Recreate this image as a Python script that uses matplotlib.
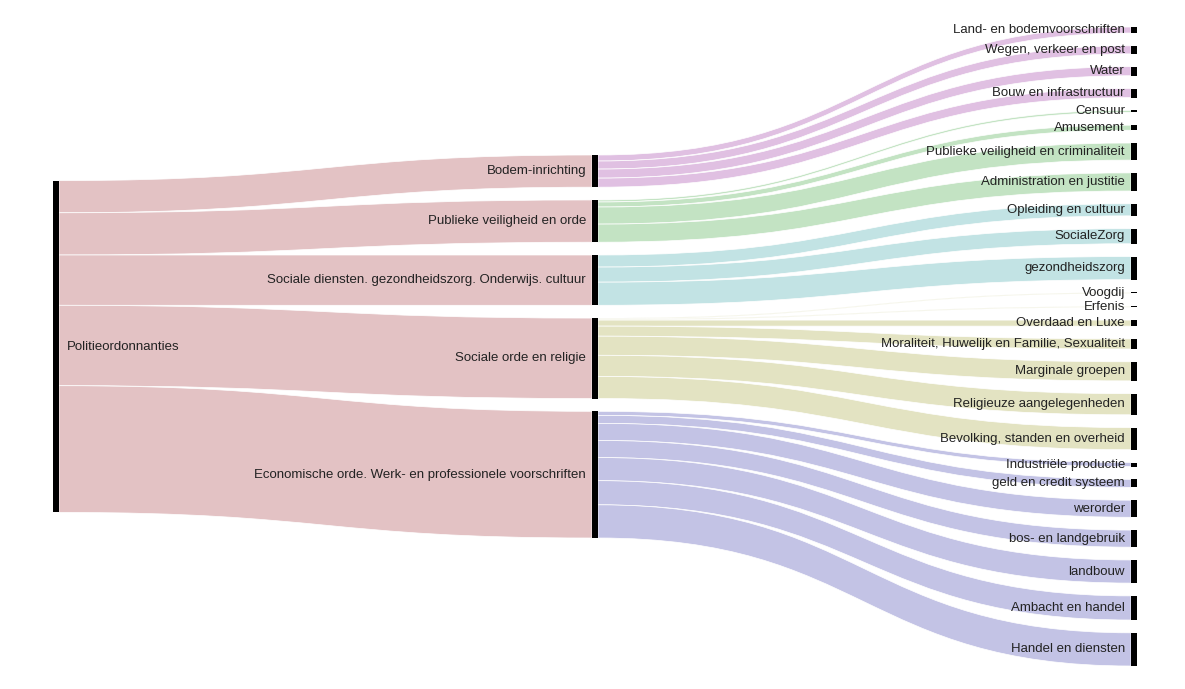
import matplotlib.pyplot as plt
from matplotlib.path import Path
from matplotlib.patches import PathPatch, Rectangle

plt.rcParams['font.family'] = ['Liberation Sans', 'DejaVu Sans']

# data
root = "Politieordonnanties"
groups = [
    "Bodem-inrichting",
    "Publieke veiligheid en orde",
    "Sociale diensten. gezondheidszorg. Onderwijs. cultuur",
    "Sociale orde en religie",
    "Economische orde. Werk- en professionele voorschriften",
]
subcats = [
    ["Land- en bodemvoorschriften", "Wegen, verkeer en post", "Water", "Bouw en infrastructuur"],
    ["Censuur", "Amusement", "Publieke veiligheid en criminaliteit", "Administration en justitie"],
    ["Opleiding en cultuur", "SocialeZorg", "gezondheidszorg"],
    ["Voogdij", "Erfenis", "Overdaad en Luxe", "Moraliteit, Huwelijk en Familie, Sexualiteit",
     "Marginale groepen", "Religieuze aangelegenheden", "Bevolking, standen en overheid"],
    ["Industriële productie", "geld en credit systeem", "werorder", "bos- en landgebruik",
     "landbouw", "Ambacht en handel", "Handel en diensten"],
]
sub_values = [
    [6, 8, 9, 9],
    [2, 5, 17, 18],
    [12, 15, 23],
    [1, 1, 6, 10, 19, 21, 22],
    [4, 8, 17, 17, 23, 24, 33],
]
group_values = [sum(v) for v in sub_values]

root_color = "#e3c2c4"
group_colors = ["#e0c0e2", "#c3e3c3", "#c2e3e4", "#e3e3c2", "#c3c3e5"]

# layout (pixel coordinates)
W, H = 1185, 689
top, bottom = 27, 666
x_left, x_right = 53, 1137
nw = 6
pad = 12.8

columns = [[root], groups, [s for grp in subcats for s in grp]]
col_values = [[sum(group_values)], group_values, [v for grp in sub_values for v in grp]]
span = bottom - top
ky = min((span - (len(v) - 1) * pad) / sum(v) for v in col_values)

node_pos = {}
for ci, (names, vals) in enumerate(zip(columns, col_values)):
    x = x_left + ci * (x_right - nw - x_left) / 2
    total = sum(vals) * ky + (len(vals) - 1) * pad
    y = top + (span - total) / 2
    for n, v in zip(names, vals):
        node_pos[n] = (x, y, y + v * ky)
        y += v * ky + pad

fig = plt.figure(figsize=(W / 100, H / 100), dpi=100)
ax = fig.add_axes([0, 0, 1, 1])
ax.set_xlim(0, W)
ax.set_ylim(H, 0)
ax.axis('off')


def draw_link(src, tgt, s0, value, color):
    xs = node_pos[src][0] + nw
    xt = node_pos[tgt][0]
    t0 = node_pos[tgt][1]
    h = value * ky
    xm = (xs + xt) / 2
    verts = [(xs, s0), (xm, s0), (xm, t0), (xt, t0),
             (xt, t0 + h), (xm, t0 + h), (xm, s0 + h), (xs, s0 + h), (xs, s0)]
    codes = [Path.MOVETO, Path.CURVE4, Path.CURVE4, Path.CURVE4,
             Path.LINETO, Path.CURVE4, Path.CURVE4, Path.CURVE4, Path.CLOSEPOLY]
    ax.add_patch(PathPatch(Path(verts, codes), facecolor=color, edgecolor='white', lw=0.5, zorder=1))


# links root -> groups
y = node_pos[root][1]
for g, v in zip(groups, group_values):
    draw_link(root, g, y, v, root_color)
    y += v * ky

# links groups -> subcategories
for g, subs, vals, c in zip(groups, subcats, sub_values, group_colors):
    y = node_pos[g][1]
    for s, v in zip(subs, vals):
        draw_link(g, s, y, v, c)
        y += v * ky

# nodes and labels
for ci, names in enumerate(columns):
    for n in names:
        x, y0, y1 = node_pos[n]
        ax.add_patch(Rectangle((x, y0), nw, max(y1 - y0, 1), color='black', lw=0, zorder=2))
        ym = (y0 + y1) / 2
        if ci == 0:
            ax.text(x + nw + 8, ym, n, ha='left', va='center', fontsize=9.5, color='#222222', zorder=3)
        else:
            ax.text(x - 6, ym, n, ha='right', va='center', fontsize=9.5, color='#222222', zorder=3)

fig.savefig("out.png", dpi=100)
